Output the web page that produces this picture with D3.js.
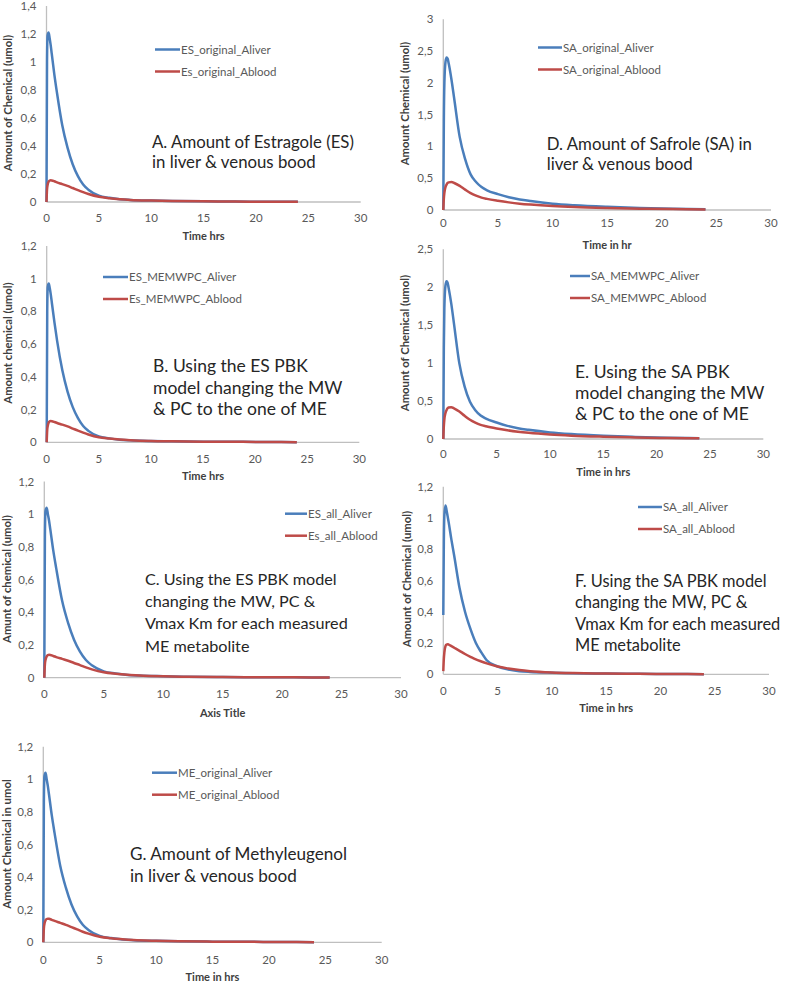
<!DOCTYPE html>
<html><head><meta charset="utf-8">
<script src="https://cdn.jsdelivr.net/npm/d3@7"></script>
<style>
html,body{margin:0;padding:0;background:#fff;}
svg{display:block;}
text{font-family:Lato,"Liberation Sans",sans-serif;}
</style></head>
<body><svg id="c" width="787" height="982"></svg>
<script>
// ---------- DATA ----------
const timeHrs = [0,0.05,0.1,0.2,0.3,0.4,0.5,0.75,1,1.5,2,2.5,3,3.5,4,5,6,7,8,10,12,15,18,21,24];

const esOriginalAliver = [0,1.0,1.19,1.21,1.17,1.12,1.06,0.91,0.78,0.55,0.39,0.27,0.185,0.125,0.088,0.045,0.03,0.02,0.015,0.01,0.007,0.005,0.003,0.002,0.001];
const esOriginalAblood = [0,0.09,0.12,0.145,0.153,0.155,0.154,0.148,0.14,0.128,0.115,0.1,0.085,0.07,0.057,0.037,0.027,0.02,0.015,0.01,0.007,0.005,0.003,0.002,0.001];

const saOriginalAliver = [0,1.4,2.0,2.33,2.4,2.38,2.3,2.05,1.75,1.15,0.8,0.56,0.44,0.36,0.31,0.25,0.2,0.165,0.14,0.1,0.075,0.05,0.032,0.02,0.012];
const saOriginalAblood = [0,0.18,0.27,0.36,0.4,0.425,0.435,0.44,0.425,0.38,0.32,0.265,0.225,0.195,0.175,0.145,0.12,0.1,0.085,0.062,0.046,0.031,0.021,0.014,0.009];

const esMemwpcAliver = [0,0.8,0.95,0.97,0.94,0.9,0.85,0.73,0.62,0.44,0.31,0.215,0.148,0.1,0.07,0.036,0.024,0.016,0.012,0.008,0.006,0.004,0.003,0.002,0.001];
const esMemwpcAblood = [0,0.076,0.1,0.122,0.129,0.13,0.129,0.124,0.118,0.108,0.097,0.084,0.071,0.059,0.048,0.031,0.023,0.017,0.013,0.008,0.006,0.004,0.003,0.002,0.001];

const saMemwpcAliver = [0,1.21,1.73,2.02,2.08,2.06,1.99,1.78,1.52,1.0,0.69,0.49,0.38,0.31,0.27,0.217,0.173,0.143,0.121,0.087,0.065,0.043,0.028,0.017,0.01];
const saMemwpcAblood = [0,0.17,0.26,0.34,0.38,0.405,0.415,0.42,0.405,0.363,0.305,0.253,0.215,0.186,0.167,0.138,0.115,0.096,0.081,0.059,0.044,0.03,0.02,0.013,0.009];

const esAllAliver = [0,0.86,1.02,1.04,1.0,0.96,0.91,0.78,0.67,0.47,0.335,0.232,0.159,0.108,0.076,0.039,0.026,0.017,0.013,0.009,0.006,0.004,0.003,0.002,0.001];
const esAllAblood = [0,0.081,0.108,0.13,0.138,0.14,0.139,0.133,0.126,0.115,0.104,0.09,0.077,0.063,0.051,0.033,0.024,0.018,0.014,0.009,0.006,0.004,0.003,0.002,0.001];

const saAllAliver = [0.38,0.85,1.02,1.08,1.05,1.01,0.97,0.86,0.76,0.55,0.4,0.29,0.2,0.14,0.09,0.05,0.03,0.02,0.015,0.01,0.007,0.005,0.003,0.002,0.001];
const saAllAblood = [0.02,0.1,0.14,0.18,0.19,0.192,0.19,0.18,0.17,0.15,0.13,0.112,0.095,0.082,0.07,0.05,0.037,0.027,0.02,0.012,0.008,0.005,0.003,0.002,0.001];

const meOriginalAliver = [0,0.86,1.02,1.04,1.0,0.96,0.91,0.78,0.67,0.47,0.335,0.232,0.159,0.108,0.076,0.039,0.026,0.017,0.013,0.009,0.006,0.004,0.003,0.002,0.001];
const meOriginalAblood = [0,0.084,0.112,0.135,0.143,0.145,0.144,0.138,0.131,0.119,0.107,0.093,0.079,0.065,0.053,0.034,0.025,0.019,0.014,0.009,0.006,0.004,0.003,0.002,0.001];

const xTicks = [0,5,10,15,20,25,30];
const yTicks14 = [0,0.2,0.4,0.6,0.8,1,1.2,1.4];
const yTicks12 = [0,0.2,0.4,0.6,0.8,1,1.2];
const yTicks3 = [0,0.5,1,1.5,2,2.5,3];
const yTicks25 = [0,0.5,1,1.5,2,2.5];

// ---------- PANELS ----------
const panels = [
 {liver:esOriginalAliver, blood:esOriginalAblood, names:["ES_original_Aliver","Es_original_Ablood"],
  yMax:1.4, yTicks:yTicks14, yTitle:"Amount of Chemical (umol)", xTitle:"Time hrs",
  note:["A. Amount of Estragole (ES)","in liver & venous bood"],
  x0:46.5, x1:360.7, yb:202, yt:6, tickY:222, xTitleY:240, yTitleX:12, yTitleY:103,
  leg:[155,180,49.5], noteX:152, noteY:148, noteDy:19.5, noteFs:16.8},
 {liver:saOriginalAliver, blood:saOriginalAblood, names:["SA_original_Aliver","SA_original_Ablood"],
  yMax:3, yTicks:yTicks3, yTitle:"Amount Chemical (umol)", xTitle:"Time in hr",
  note:["D. Amount of Safrole (SA) in","liver & venous bood"],
  x0:443.3, x1:771, yb:210, yt:19.3, tickY:226.5, xTitleY:248.5, yTitleX:409, yTitleY:103.5,
  leg:[538,562,47.5], noteX:546.7, noteY:150, noteDy:19.8, noteFs:16.8},
 {liver:esMemwpcAliver, blood:esMemwpcAblood, names:["ES_MEMWPC_Aliver","Es_MEMWPC_Ablood"],
  yMax:1.2, yTicks:yTicks12, yTitle:"Amount chemical (umol)", xTitle:"Time hrs",
  note:["B. Using the ES PBK","model changing the MW","& PC to the one of ME"],
  x0:46.7, x1:359.3, yb:442.3, yt:246, tickY:463, xTitleY:480, yTitleX:12, yTitleY:343,
  leg:[103,128,277], noteX:153, noteY:372, noteDy:21.5, noteFs:17.5},
 {liver:saMemwpcAliver, blood:saMemwpcAblood, names:["SA_MEMWPC_Aliver","SA_MEMWPC_Ablood"],
  yMax:2.5, yTicks:yTicks25, yTitle:"Amount of Chemical (umol)", xTitle:"Time in hrs",
  note:["E. Using the SA PBK","model changing the MW","& PC to the one of ME"],
  x0:443.3, x1:763.3, yb:439, yt:249.3, tickY:458, xTitleY:475.5, yTitleX:409, yTitleY:343,
  leg:[570,590,276], noteX:575, noteY:378, noteDy:21, noteFs:17.5},
 {liver:esAllAliver, blood:esAllAblood, names:["ES_all_Aliver","Es_all_Ablood"],
  yMax:1.2, yTicks:yTicks12, yTitle:"Amunt of chemical (umol)", xTitle:"Axis Title",
  note:["C. Using the ES PBK model","changing the MW, PC &","Vmax Km for each measured","ME metabolite"],
  x0:44.3, x1:401, yb:677.7, yt:481.5, tickY:698, xTitleY:717, yTitleX:10.5, yTitleY:579,
  leg:[285,307,513.7], noteX:145, noteY:585, noteDy:22.2, noteFs:16.2},
 {liver:saAllAliver, blood:saAllAblood, names:["SA_all_Aliver","SA_all_Ablood"],
  yMax:1.2, yTicks:yTicks12, yTitle:"Amount of Chemical (umol)", xTitle:"Time in hrs",
  note:["F. Using the SA PBK model","changing the MW, PC &","Vmax Km for each measured","ME metabolite"],
  x0:443.3, x1:769, yb:674.3, yt:486.7, tickY:694.5, xTitleY:712, yTitleX:411, yTitleY:579,
  leg:[638,662,507], noteX:575, noteY:587, noteDy:21.3, noteFs:16.4},
 {liver:meOriginalAliver, blood:meOriginalAblood, names:["ME_original_Aliver","ME_original_Ablood"],
  yMax:1.2, yTicks:yTicks12, yTitle:"Amount Chemical in umol", xTitle:"Time in hrs",
  note:["G. Amount of Methyleugenol","in liver & venous bood"],
  x0:43.3, x1:381.7, yb:942.3, yt:746.7, tickY:964, xTitleY:981, yTitleX:10.5, yTitleY:844,
  leg:[152,177,772.7], noteX:130, noteY:860, noteDy:21.5, noteFs:17.1}
];

const BLUE = "#4A7EBB", RED = "#BE4B48", AXIS = "#BFBFBF", LABEL = "#595959";
const loc = d3.formatLocale({decimal:",", thousands:".", grouping:[3], currency:["","€"]});
const fmt = loc.format("~r");
const svg = d3.select("#c");

panels.forEach(p => {
  const g = svg.append("g");
  const x = d3.scaleLinear().domain([0,30]).range([p.x0,p.x1]);
  const y = d3.scaleLinear().domain([0,p.yMax]).range([p.yb,p.yt]);

  // axes lines
  g.append("line").attr("x1",x(0)).attr("x2",x(0)).attr("y1",y(0)).attr("y2",y(p.yMax))
    .attr("stroke",AXIS).attr("stroke-width",1.3);
  g.append("line").attr("x1",x(0)).attr("x2",x(30)).attr("y1",y(0)).attr("y2",y(0))
    .attr("stroke",AXIS).attr("stroke-width",1.3);

  // tick labels
  g.selectAll(".yt").data(p.yTicks).enter().append("text")
    .attr("x",x(0)-10).attr("y",d=>y(d)+4).attr("text-anchor","end")
    .attr("font-size",11.5).attr("fill",LABEL).text(d=>fmt(d));
  g.selectAll(".xt").data(xTicks).enter().append("text")
    .attr("x",d=>x(d)).attr("y",p.tickY).attr("text-anchor","middle")
    .attr("font-size",11.5).attr("fill",LABEL).text(d=>fmt(d));

  // axis titles
  g.append("text").attr("x",(p.x0+p.x1)/2).attr("y",p.xTitleY).attr("text-anchor","middle")
    .attr("font-size",11).attr("font-weight","bold").attr("fill","#404040").text(p.xTitle);
  g.append("text").attr("transform",`translate(${p.yTitleX},${p.yTitleY}) rotate(-90)`)
    .attr("text-anchor","middle").attr("font-size",11.3).attr("font-weight","bold")
    .attr("fill","#404040").text(p.yTitle);

  // series
  const line = d3.line().x((d,i)=>x(timeHrs[i])).y(d=>y(d)).curve(d3.curveMonotoneX);
  g.append("path").datum(p.liver).attr("d",line).attr("fill","none")
    .attr("stroke",BLUE).attr("stroke-width",2.5).attr("stroke-linejoin","round");
  g.append("path").datum(p.blood).attr("d",line).attr("fill","none")
    .attr("stroke",RED).attr("stroke-width",2.5).attr("stroke-linejoin","round");

  // legend
  const [lx1,lx2,ly] = p.leg;
  [BLUE,RED].forEach((c,i)=>{
    const yy = ly + i*22;
    g.append("line").attr("x1",lx1).attr("x2",lx2).attr("y1",yy).attr("y2",yy)
      .attr("stroke",c).attr("stroke-width",2.5);
    g.append("text").attr("x",lx2+1).attr("y",yy+4).attr("font-size",11.5)
      .attr("fill",LABEL).text(p.names[i]);
  });

  // annotation
  p.note.forEach((t,i)=>{
    g.append("text").attr("x",p.noteX).attr("y",p.noteY+i*p.noteDy)
      .attr("font-size",p.noteFs).attr("fill","#262626").text(t);
  });
});
</script></body></html>
